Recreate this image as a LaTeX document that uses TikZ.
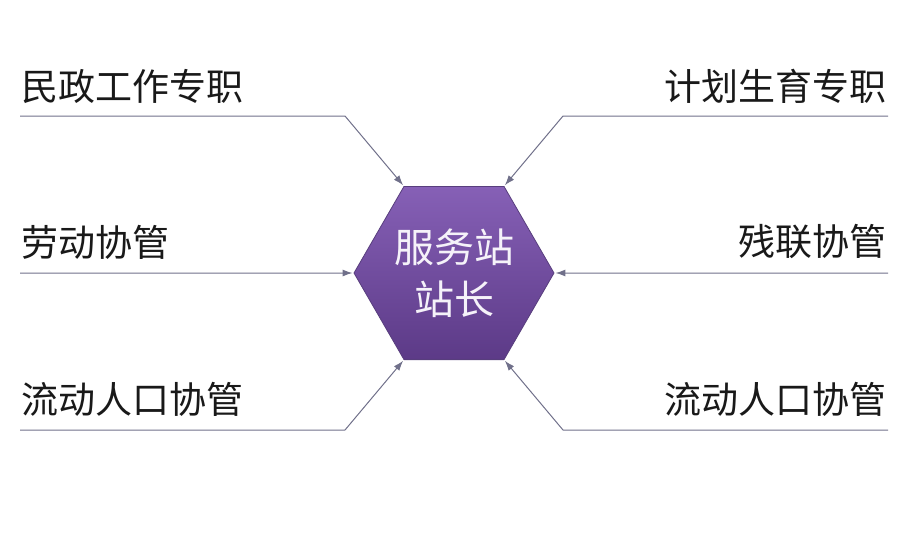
\documentclass[tikz,border=0pt]{standalone}
\usepackage{fontspec}
\setmainfont{Noto Sans CJK SC}
\usetikzlibrary{arrows.meta,shapes.geometric,positioning}
\definecolor{hexTop}{RGB}{134,96,182}
\definecolor{hexBot}{RGB}{92,58,135}
\definecolor{hexEdge}{RGB}{88,62,125}
\definecolor{lineGray}{RGB}{112,112,138}

\begin{document}
\begin{tikzpicture}
[x=1pt, y=-1pt,
post/.style={inner sep=0pt, font=\fontsize{37}{40}\selectfont, text=black!90},
hex/.style={regular polygon, regular polygon sides=6, minimum size=200pt, inner sep=0pt,
  top color=hexTop, bottom color=hexBot, draw=hexEdge, line width=0.8pt,
  text=white!92!hexTop, align=center, font=\fontsize{40}{52}\selectfont},
feed/.style={draw=lineGray, line width=1pt, -{Latex[length=10pt, width=7pt]}, shorten >=1pt}]

	\useasboundingbox (0,0) rectangle (910,541);

	\node (zhan) at (454,273) [hex] {服务站\\站长};

	\node (mz) [post, anchor=west] at (21,86) {民政工作专职};
	\node (ld) [post, anchor=west] at (21,242) {劳动协管};
	\node (rkl) [post, anchor=west] at (21,399) {流动人口协管};
	\node (jh) [post, anchor=east] at (887,86) {计划生育专职};
	\node (cl) [post, anchor=east] at (887,242) {残联协管};
	\node (rkr) [post, anchor=east] at (887,399) {流动人口协管};

	\coordinate (mzin) at (20,116);
	\coordinate (mzbend) at (345,116);
	\coordinate (ldin) at (20,273);
	\coordinate (rklin) at (20,430);
	\coordinate (rklbend) at (345,430);
	\coordinate (jhin) at (888,116);
	\coordinate (jhbend) at (563,116);
	\coordinate (clin) at (888,273);
	\coordinate (rkrin) at (888,430);
	\coordinate (rkrbend) at (563,430);

	\draw[feed] (mzin) -- (mzbend) -- (zhan.120);
	\draw[feed] (ldin) -- (zhan.180);
	\draw[feed] (rklin) -- (rklbend) -- (zhan.240);
	\draw[feed] (jhin) -- (jhbend) -- (zhan.60);
	\draw[feed] (clin) -- (zhan.0);
	\draw[feed] (rkrin) -- (rkrbend) -- (zhan.300);

\end{tikzpicture}
\end{document}
